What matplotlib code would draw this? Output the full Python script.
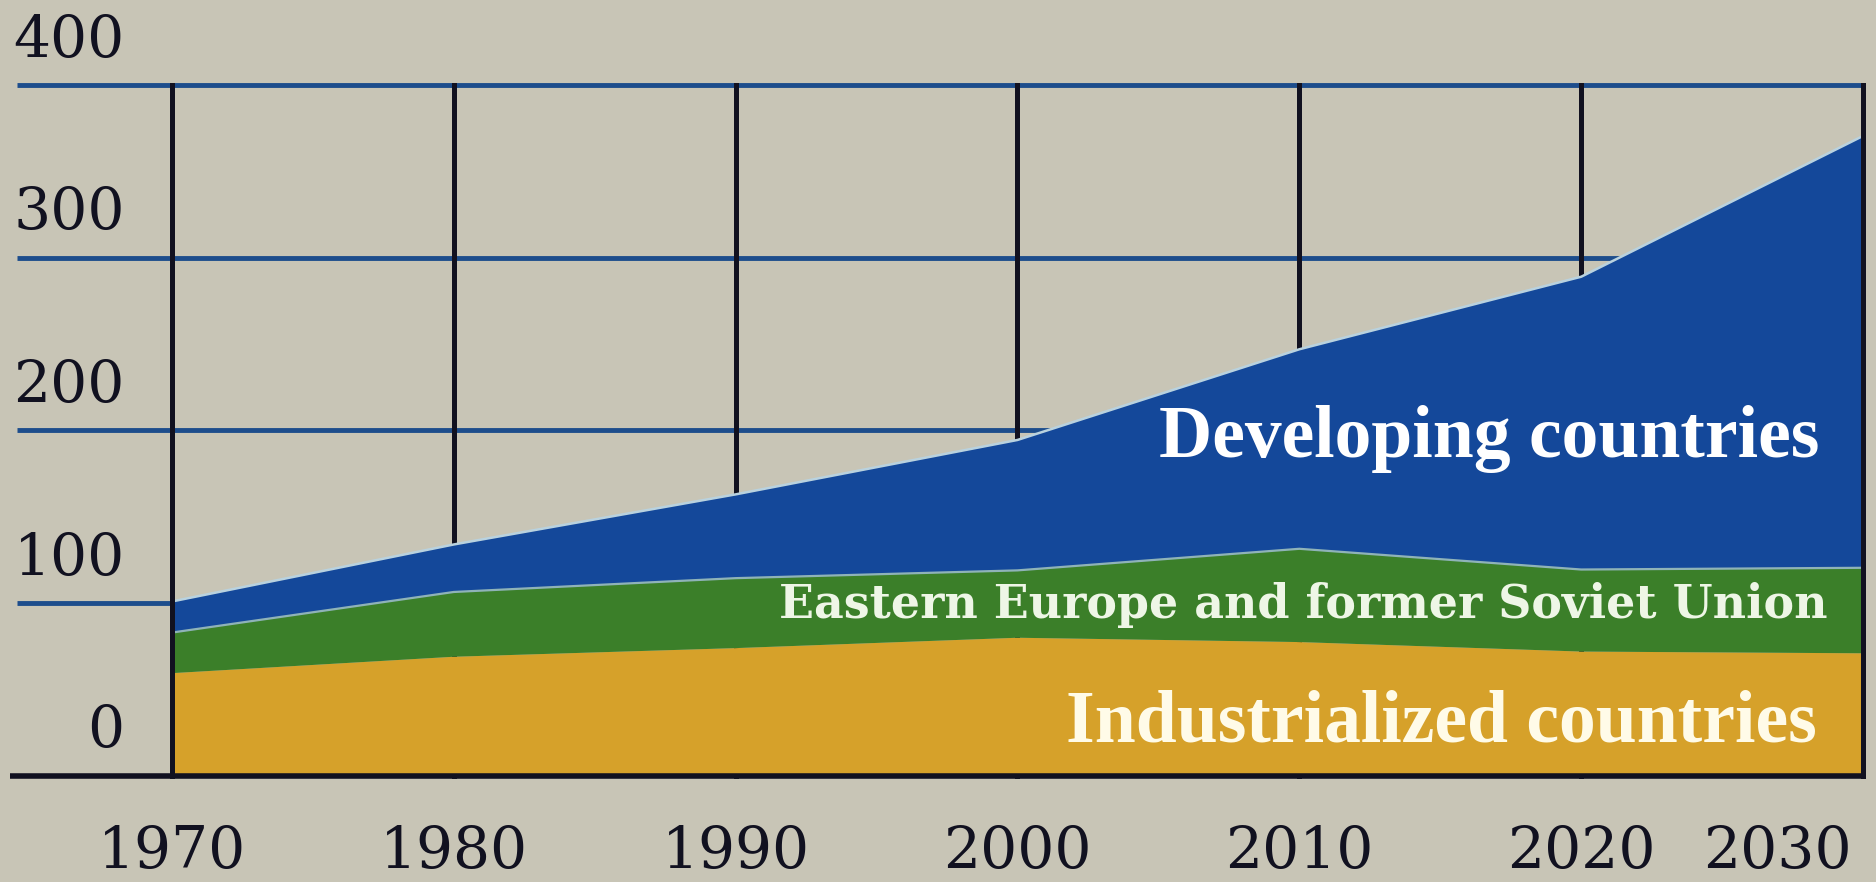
import numpy as np
import matplotlib.pyplot as plt

# values
years = [1970, 1980, 1990, 2000, 2010, 2020, 2030]
industrialized = [59.5, 69, 74, 80, 77.5, 72, 71]
eastern_europe = [23.5, 37.5, 40.5, 39, 54, 47.5, 49.5]
developing = [18, 27.5, 48.5, 75.5, 115.5, 169.5, 250]
y_ticks = [0, 100, 200, 300, 400]
x_labels = ["1970", "1980", "1990", "2000", "2010", "2020", "2030"]
series_names = ["Industrialized countries",
                "Eastern Europe and former Soviet Union",
                "Developing countries"]

bg = "#c8c5b6"
grid_blue = "#1d4d8c"
ink = "#111120"
colors = ["#d6a12a", "#3b7f29", "#14489a"]

fig = plt.figure(figsize=(18.76, 8.82), dpi=100, facecolor=bg)
ax = fig.add_axes([0, 0, 1, 1])
ax.set_facecolor(bg)
ax.set_xlim(1963.9, 2030.46)
ax.set_ylim(-61.4, 449.2)
ax.axis("off")

# grid behind the areas
for v in y_ticks[1:]:
    ax.plot([1964.5, 2030], [v, v], color=grid_blue, lw=3.5, zorder=1,
            solid_capstyle="butt")
for yr in years[1:-1]:
    ax.plot([yr, yr], [0, y_ticks[-1]], color=ink, lw=3.6, zorder=1)

ax.stackplot(years, industrialized, eastern_europe, developing,
             colors=colors, lw=0, zorder=2)

# pale edge along the tops of the upper layers
cum = np.cumsum([industrialized, eastern_europe, developing], axis=0)
ax.plot(years, cum[1], color="#8fb3b8", lw=1.6, zorder=2.5)
ax.plot(years, cum[2], color="#b9d2df", lw=1.8, zorder=2.5)

# frame lines on top
ax.plot([years[0], years[0]], [0, y_ticks[-1]], color=ink, lw=3.6, zorder=3)
ax.plot([years[-1], years[-1]], [0, y_ticks[-1]], color=ink, lw=3.6, zorder=3)
ax.plot([1964.25, 2030.1], [0, 0], color=ink, lw=4, zorder=3,
        solid_capstyle="butt")

for v in y_ticks:
    ax.annotate(str(v), xy=(years[0], v), xytext=(-34, 32),
                textcoords="offset points", ha="right", va="center",
                fontsize=42, family="DejaVu Serif", color=ink)

for i, (yr, lab) in enumerate(zip(years, x_labels)):
    if i == len(years) - 1:
        ax.annotate(lab, xy=(yr, 0), xytext=(-8, -55), textcoords="offset points",
                    ha="right", va="center", fontsize=42,
                    family="DejaVu Serif", color=ink)
    else:
        ax.annotate(lab, xy=(yr, 0), xytext=(0, -55), textcoords="offset points",
                    ha="center", va="center", fontsize=42,
                    family="DejaVu Serif", color=ink)

ax.text(2028.45, 184.7, series_names[2], ha="right", va="baseline",
        fontsize=53, fontweight="bold", family="Liberation Serif",
        color="white", zorder=4)
ax.text(2028.73, 91.5, series_names[1], ha="right", va="baseline",
        fontsize=33, fontweight="bold", family="DejaVu Serif",
        color="#eef6e6", zorder=4)
ax.text(2028.35, 19.7, series_names[0], ha="right", va="baseline",
        fontsize=53, fontweight="bold", family="Liberation Serif",
        color="#fffbe8", zorder=4)

fig.savefig("out.png", dpi=100, facecolor=bg)
